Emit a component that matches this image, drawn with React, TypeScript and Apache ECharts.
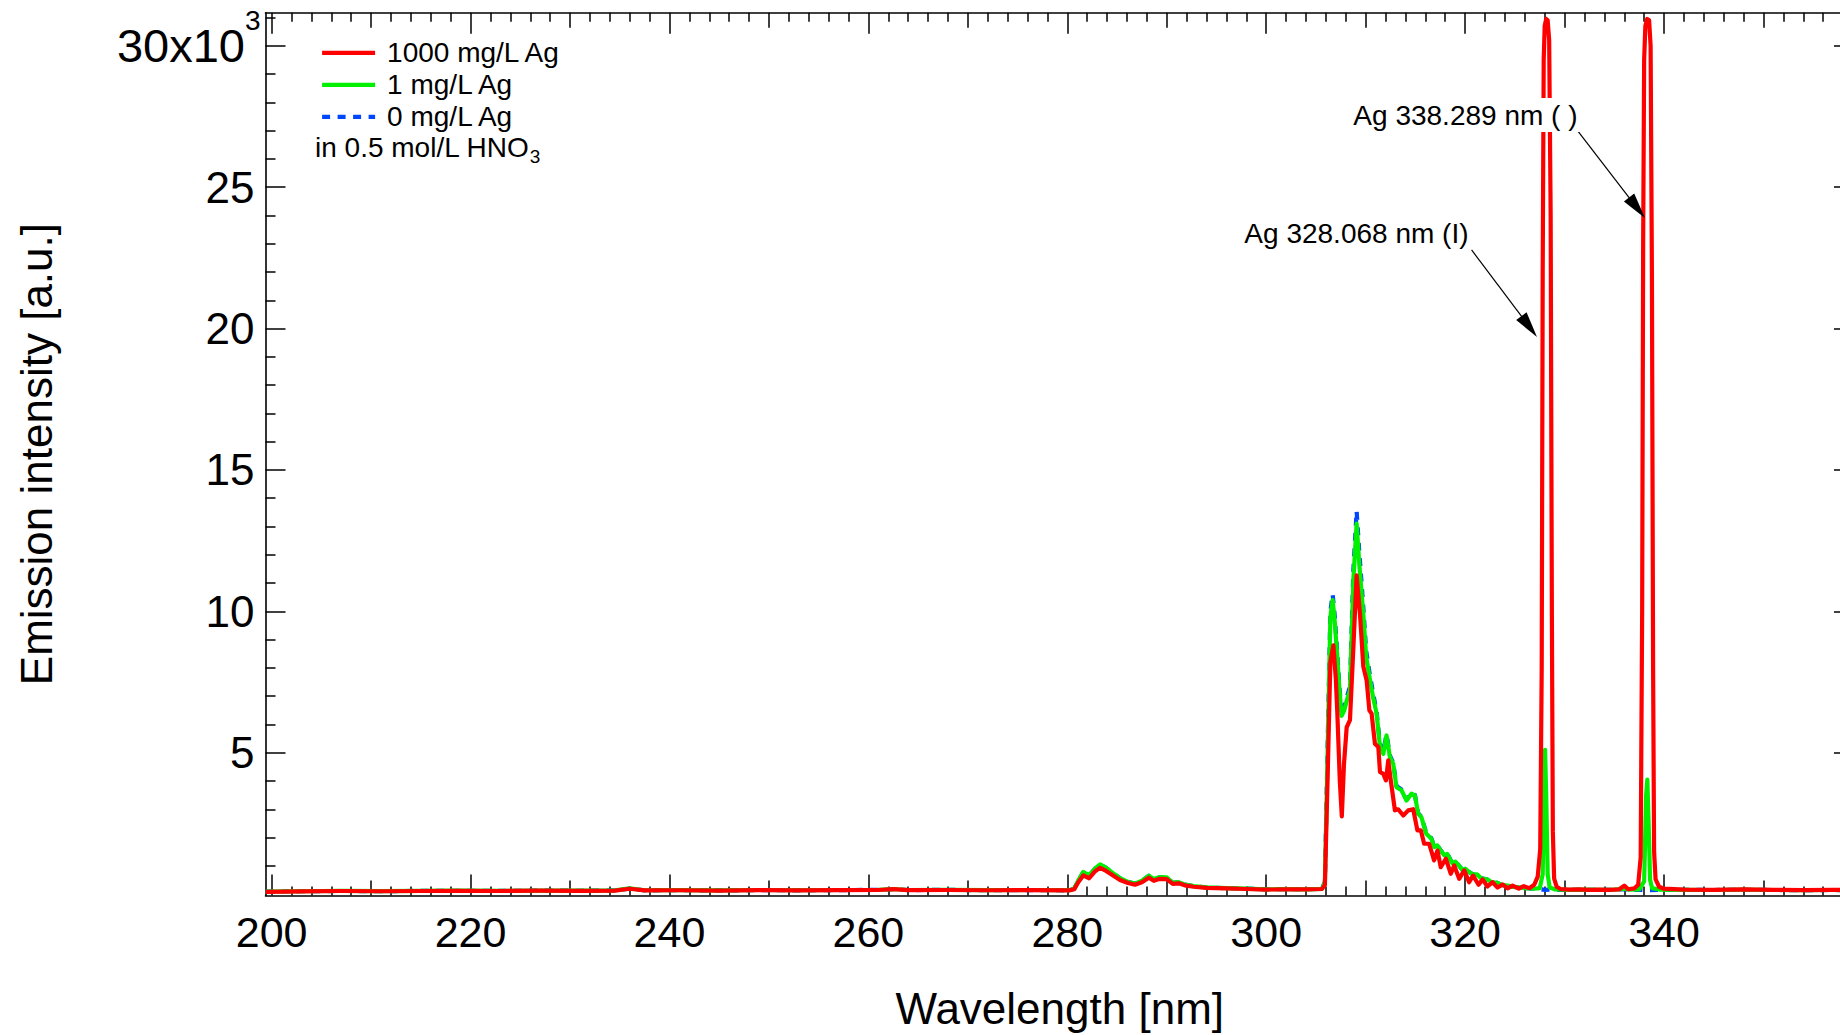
import { useEffect, useRef } from "react";
import * as echarts from "echarts";

const FONT = "'Liberation Sans', Arial, Helvetica, sans-serif";

// Axis extents: wavelength [nm] and emission intensity [a.u.]
const X_MIN = 199.38;
const X_MAX = 359.1;
const Y_MIN = -50;
const Y_MAX = 31170;

// Tick positions
const xLabelValues = [200, 220, 240, 260, 280, 300, 320, 340];
const xTicks10 = [210, 230, 250, 270, 290, 310, 330, 350];
const xTicks2: number[] = [];
for (let v = 202; v < X_MAX; v += 2) if (v % 10 !== 0) xTicks2.push(v);
const yLabelValues = [5000, 10000, 15000, 20000, 25000, 30000];
const yTicksMinor: number[] = [];
for (let v = 1000; v <= 31000; v += 1000) if (v % 5000 !== 0) yTicksMinor.push(v);

// 1000 mg/L Ag spectrum [nm, intensity]
const ag1000: [number, number][] = [
  [199.4, 80], [203, 95], [207, 110], [211, 100], [215, 110], [219, 115], [223, 110], [227, 120], [231, 115], [234.5, 125], [236, 190], [237.5, 130], [241, 135], [245, 125], [249, 140], [253, 130], [257, 140], [261, 145], [262.5, 175], [264, 140], [268, 145], [272, 135], [276, 140], [280.2, 130],
  [280.7, 170], [281.1, 420], [281.6, 660], [282.2, 560], [282.8, 810], [283.3, 930], [283.9, 820], [284.6, 660], [285.3, 500], [286.1, 390], [286.8, 330], [287.5, 420], [288.2, 580], [288.7, 470], [289.3, 540], [290.0, 530], [290.6, 360], [291.2, 380], [291.8, 310], [292.7, 260], [294, 220], [296, 200], [298, 180], [300, 160], [302, 170], [304, 165], [305.6, 180],
  [305.9, 320], [306.2, 4500], [306.45, 8200], [306.75, 8800], [307.0, 7600], [307.15, 6400], [307.4, 4000], [307.6, 2750], [307.82, 4600], [308.09, 5900], [308.42, 6150], [308.76, 8700], [309.09, 11270], [309.43, 9900], [309.76, 8050], [310.1, 7550], [310.37, 6500], [310.6, 6380], [310.93, 5320], [311.27, 5200], [311.44, 4320], [311.77, 4250], [312.04, 4020], [312.27, 4730], [312.5, 4080], [312.94, 2960], [313.27, 3000], [313.78, 2780], [314.28, 2960], [314.78, 3000], [315.2, 2250], [315.55, 2250], [315.88, 1780], [316.38, 1780], [316.88, 1190], [317.22, 1540], [317.55, 950], [318.06, 1250], [318.56, 720], [318.9, 1010], [319.4, 540], [319.91, 840], [320.4, 420], [320.8, 650], [321.35, 330], [321.75, 520], [322.25, 270], [322.76, 420], [323.26, 230], [323.77, 340], [324.27, 200], [324.77, 300], [325.4, 190], [325.9, 280], [326.45, 210], [326.95, 330], [327.3, 620],
  [327.55, 1600], [327.7, 8000], [327.8, 22000], [327.9, 29500], [328.0, 30700], [328.15, 30950], [328.3, 30900], [328.45, 30200], [328.6, 24000], [328.72, 10000], [328.82, 2200], [328.95, 550], [329.2, 260], [329.6, 180], [330.5, 160], [331.5, 170], [332.5, 150], [333.5, 160], [334.5, 150], [335.5, 170], [336.0, 300], [336.4, 170], [337.0, 200], [337.4, 330],
  [337.65, 1300], [337.8, 10000], [337.9, 23000], [338.0, 29500], [338.12, 30700], [338.3, 30950], [338.5, 30900], [338.65, 30000], [338.78, 22000], [338.9, 8000], [339.0, 1500], [339.15, 520], [339.5, 260], [340, 190], [342, 160], [345, 150], [348, 165], [351, 150], [354, 140], [357, 150], [359.1, 140],
];

// 1 mg/L Ag spectrum [nm, intensity]
const ag1: [number, number][] = [
  [199.4, 90], [203, 100], [207, 115], [211, 105], [215, 115], [219, 120], [223, 115], [227, 125], [231, 120], [234.5, 130], [236, 200], [237.5, 135], [241, 140], [245, 130], [249, 145], [253, 135], [257, 145], [261, 150], [262.5, 180], [264, 145], [268, 150], [272, 140], [276, 145], [280.2, 135],
  [280.7, 200], [281.1, 480], [281.6, 780], [282.2, 670], [282.8, 910], [283.3, 1050], [283.9, 930], [284.6, 740], [285.3, 560], [286.1, 430], [286.8, 370], [287.5, 470], [288.2, 650], [288.7, 530], [289.3, 600], [290.0, 590], [290.6, 400], [291.2, 420], [291.8, 340], [292.7, 280], [294, 235], [296, 210], [298, 190], [300, 170], [302, 175], [304, 170], [305.6, 185],
  [305.9, 420], [306.2, 5500], [306.45, 9800], [306.68, 10400], [306.9, 9600], [307.08, 8700], [307.35, 7300], [307.58, 6300], [307.85, 6500], [308.1, 6850], [308.42, 7200], [308.76, 11100], [309.09, 13100], [309.35, 11700], [309.76, 9900], [310.05, 8400], [310.4, 7650], [310.75, 6950], [311.1, 6380], [311.44, 5200], [311.77, 4960], [312.1, 5610], [312.44, 4840], [312.77, 4610], [313.1, 3780], [313.6, 3670], [314.11, 3310], [314.6, 3550], [314.95, 3490], [315.28, 2840], [315.6, 2720], [316.1, 2130], [316.6, 1960], [316.9, 1660], [317.2, 1720], [317.5, 1560], [317.9, 1370], [318.2, 1420], [318.5, 1220], [318.74, 1080], [319.0, 1150], [319.35, 1020], [319.74, 840], [320.0, 900], [320.4, 780], [320.8, 690], [321.2, 700], [321.6, 560], [322.2, 520], [322.7, 420], [323.2, 400], [323.7, 320], [324.3, 300], [324.8, 250], [325.5, 240], [326.0, 210], [326.5, 200], [327.0, 190], [327.5, 210],
  [327.8, 700], [327.95, 4000], [328.04, 5100], [328.15, 3500], [328.3, 700], [328.5, 230], [329, 170], [330.5, 150], [332, 160], [333.5, 150], [335, 160], [336.0, 190], [336.4, 160], [337.5, 170],
  [338.0, 450], [338.2, 3500], [338.32, 4050], [338.45, 2500], [338.6, 500], [338.8, 210], [339.5, 160], [342, 150], [345, 145], [348, 155], [351, 145], [354, 140], [357, 145], [359.1, 140],
];

// 0 mg/L Ag (blank) spectrum [nm, intensity]
const ag0: [number, number][] = [
  [199.4, 85], [203, 100], [207, 110], [211, 105], [215, 112], [219, 118], [223, 112], [227, 122], [231, 118], [234.5, 128], [236, 195], [237.5, 132], [241, 138], [245, 128], [249, 142], [253, 132], [257, 142], [261, 148], [262.5, 178], [264, 142], [268, 148], [272, 138], [276, 142], [280.2, 132],
  [280.7, 195], [281.1, 470], [281.6, 770], [282.2, 660], [282.8, 900], [283.3, 1040], [283.9, 930], [284.6, 740], [285.3, 560], [286.1, 430], [286.8, 370], [287.5, 470], [288.2, 650], [288.7, 530], [289.3, 600], [290.0, 590], [290.6, 400], [291.2, 420], [291.8, 340], [292.7, 280], [294, 235], [296, 210], [298, 190], [300, 170], [302, 175], [304, 170], [305.6, 185],
  [305.9, 430], [306.2, 5700], [306.45, 10000], [306.68, 10600], [306.9, 9800], [307.08, 8850], [307.35, 7400], [307.58, 6350], [307.85, 6600], [308.1, 6950], [308.42, 7350], [308.76, 11450], [309.09, 13550], [309.35, 12150], [309.76, 10150], [310.05, 8600], [310.4, 7800], [310.75, 7100], [311.1, 6450], [311.44, 5300], [311.77, 5050], [312.1, 5650], [312.44, 4900], [312.77, 4650], [313.1, 3820], [313.6, 3700], [314.11, 3340], [314.6, 3580], [314.95, 3510], [315.28, 2860], [315.6, 2740], [316.1, 2150], [316.6, 1980], [316.9, 1680], [317.2, 1730], [317.5, 1570], [317.9, 1380], [318.2, 1430], [318.5, 1230], [318.74, 1090], [319.0, 1150], [319.35, 1020], [319.74, 850], [320.0, 900], [320.4, 780], [320.8, 690], [321.2, 700], [321.6, 560], [322.2, 520], [322.7, 420], [323.2, 400], [323.7, 320], [324.3, 300], [324.8, 250], [325.5, 240], [326.0, 210], [326.5, 200], [327.0, 190], [327.5, 180], [328.0, 150], [328.5, 160], [329, 150], [330.5, 150], [332, 155], [333.5, 150], [335, 155], [336.0, 170], [336.4, 155], [337.5, 150], [338.3, 140], [339.5, 150], [342, 148], [345, 145], [348, 150], [351, 145], [354, 140], [357, 145], [359.1, 140],
];

// Line annotations: label anchors and arrow endpoints [nm, intensity]
const annotationLabels = ["Ag 338.289 nm ( )", "Ag 328.068 nm (I)"];
const annotationAnchors: [number, number][] = [[320.03, 27550], [309.07, 23360]];
const arrowTails: [number, number][] = [[331.34, 26980], [320.65, 22780]];
const arrowHeads: [number, number][] = [[337.28, 24270], [326.44, 20070]];

const seriesNames = ["1000 mg/L Ag", "1 mg/L Ag", "0 mg/L Ag"];
const seriesColors = ["#ff0000", "#00f000", "#0046ff"];
const seriesDash: (string | number[])[] = ["solid", "solid", [8, 7.5]];
const LINE_WIDTH = 4.2;

const tickStyle = { color: "#000", width: 1.5 };
const axisLineStyle = { color: "#000", width: 1.6 };

function xTickAxis(position: "top" | "bottom", values: number[], length: number, showLine: boolean) {
  return {
    type: "value",
    position,
    min: X_MIN,
    max: X_MAX,
    axisLine: { show: showLine, onZero: false, lineStyle: axisLineStyle },
    axisTick: { show: true, inside: true, length, customValues: values, lineStyle: tickStyle },
    axisLabel: { show: false },
    splitLine: { show: false },
    minorTick: { show: false },
  };
}

function yTickAxis(position: "left" | "right", values: number[], length: number, showLine: boolean) {
  return {
    type: "value",
    position,
    min: Y_MIN,
    max: Y_MAX,
    axisLine: { show: showLine, onZero: false, lineStyle: axisLineStyle },
    axisTick: { show: true, inside: true, length, customValues: values, lineStyle: tickStyle },
    axisLabel: { show: false },
    splitLine: { show: false },
    minorTick: { show: false },
  };
}

function buildOption() {
  const bottomMain: any = {
    ...xTickAxis("bottom", xLabelValues, 21, true),
    name: "Wavelength [nm]",
    nameLocation: "middle",
    nameGap: 91,
    nameTextStyle: { fontSize: 44, fontFamily: FONT, color: "#000" },
    axisLabel: {
      show: true,
      customValues: xLabelValues,
      margin: 15,
      fontSize: 43,
      fontFamily: FONT,
      color: "#000",
      formatter: (v: number) => String(v),
    },
  };

  const leftMain: any = {
    ...yTickAxis("left", yLabelValues, 20, true),
    name: "Emission intensity [a.u.]",
    nameLocation: "middle",
    nameGap: 207,
    nameRotate: 90,
    nameTextStyle: { fontSize: 44, fontFamily: FONT, color: "#000" },
    axisLabel: {
      show: true,
      customValues: yLabelValues,
      margin: 5,
      formatter: (v: number) => (v === 30000 ? "{big|30x10}{sup|3}" : `{a|${v / 1000}}{pad| }`),
      rich: {
        a: { fontSize: 44, fontFamily: FONT, color: "#000" },
        big: { fontSize: 47, fontFamily: FONT, color: "#000" },
        sup: { fontSize: 28, fontFamily: FONT, color: "#000", padding: [0, 0, 50, 0] },
        pad: { width: 6, fontSize: 10 },
      },
    },
  };

  const lineSeries = [
    { name: seriesNames[2], data: ag0, color: seriesColors[2], dash: seriesDash[2], z: 2 },
    { name: seriesNames[1], data: ag1, color: seriesColors[1], dash: seriesDash[1], z: 3 },
    { name: seriesNames[0], data: ag1000, color: seriesColors[0], dash: seriesDash[0], z: 4 },
  ].map((s) => ({
    type: "line",
    name: s.name,
    data: s.data,
    xAxisIndex: 0,
    yAxisIndex: 0,
    symbol: "none",
    showSymbol: false,
    z: s.z,
    silent: true,
    itemStyle: { color: s.color },
    lineStyle: { color: s.color, width: LINE_WIDTH, type: s.dash, join: "round", cap: "butt" },
  }));

  const annotationSeries = {
    type: "scatter",
    name: "annotations",
    xAxisIndex: 0,
    yAxisIndex: 0,
    z: 10,
    silent: true,
    symbolSize: 1,
    itemStyle: { color: "rgba(0,0,0,0)", opacity: 1 },
    data: annotationAnchors.map((p, i) => ({ value: p, name: annotationLabels[i] })),
    label: {
      show: true,
      position: "inside",
      formatter: "{b}",
      color: "#000",
      opacity: 1,
      fontSize: 28,
      fontFamily: FONT,
      backgroundColor: "#ffffff",
      padding: [3, 2],
    },
    markLine: {
      silent: true,
      animation: false,
      symbol: ["none", "triangle"],
      label: { show: false },
      lineStyle: { color: "#000", width: 1.2, type: "solid", opacity: 1 },
      data: arrowTails.map((t, i) => [
        { coord: t, symbol: "none" },
        { coord: arrowHeads[i], symbol: "triangle", symbolSize: [13, 26] },
      ]),
    },
  };

  return {
    animation: false,
    backgroundColor: "#fff",
    textStyle: { fontFamily: FONT, color: "#000" },
    grid: {
      left: 265.5,
      top: 12.7,
      right: 6,
      bottom: 139.5,
      containLabel: false,
      outerBoundsMode: "none",
    },
    legend: {
      data: seriesNames.map((name, i) => ({
        name,
        lineStyle: { color: seriesColors[i], width: LINE_WIDTH, type: seriesDash[i], cap: "butt" },
      })),
      orient: "vertical",
      left: 320,
      top: 36.8,
      padding: 0,
      itemWidth: 53,
      itemHeight: 14,
      itemGap: 0,
      selectedMode: false,
      itemStyle: { opacity: 0 },
      textStyle: { fontSize: 28, fontFamily: FONT, color: "#000", lineHeight: 32, padding: [0, 0, 0, 7] },
    },
    graphic: [
      {
        type: "text",
        left: 315,
        top: 133.5,
        silent: true,
        style: {
          text: "{a|in 0.5 mol/L HNO}{s|3}",
          rich: {
            a: { fontSize: 28, fontFamily: FONT, fill: "#000" },
            s: { fontSize: 19, fontFamily: FONT, fill: "#000", padding: [17, 0, 0, 0] },
          },
        },
      },
    ],
    xAxis: [
      bottomMain,
      xTickAxis("bottom", xTicks10, 15, false),
      xTickAxis("bottom", xTicks2, 9, false),
      xTickAxis("top", xLabelValues, 21, true),
      xTickAxis("top", xTicks10, 15, false),
      xTickAxis("top", xTicks2, 9, false),
    ],
    yAxis: [
      leftMain,
      yTickAxis("left", yTicksMinor, 10, false),
      yTickAxis("right", yLabelValues, 20, true),
      yTickAxis("right", yTicksMinor, 10, false),
    ],
    series: [...lineSeries, annotationSeries],
  };
}

export default function App() {
  const ref = useRef<HTMLDivElement>(null);
  useEffect(() => {
    if (!ref.current) return;
    const chart = echarts.init(ref.current, null, { renderer: "svg" });
    chart.setOption(buildOption() as any);
    return () => chart.dispose();
  }, []);
  return (
    <div
      style={{
        position: "fixed",
        left: 0,
        top: 0,
        width: 1840,
        height: 1035,
        overflow: "hidden",
        background: "#fff",
      }}
    >
      <div ref={ref} style={{ width: 1860, height: 1035 }} />
    </div>
  );
}
